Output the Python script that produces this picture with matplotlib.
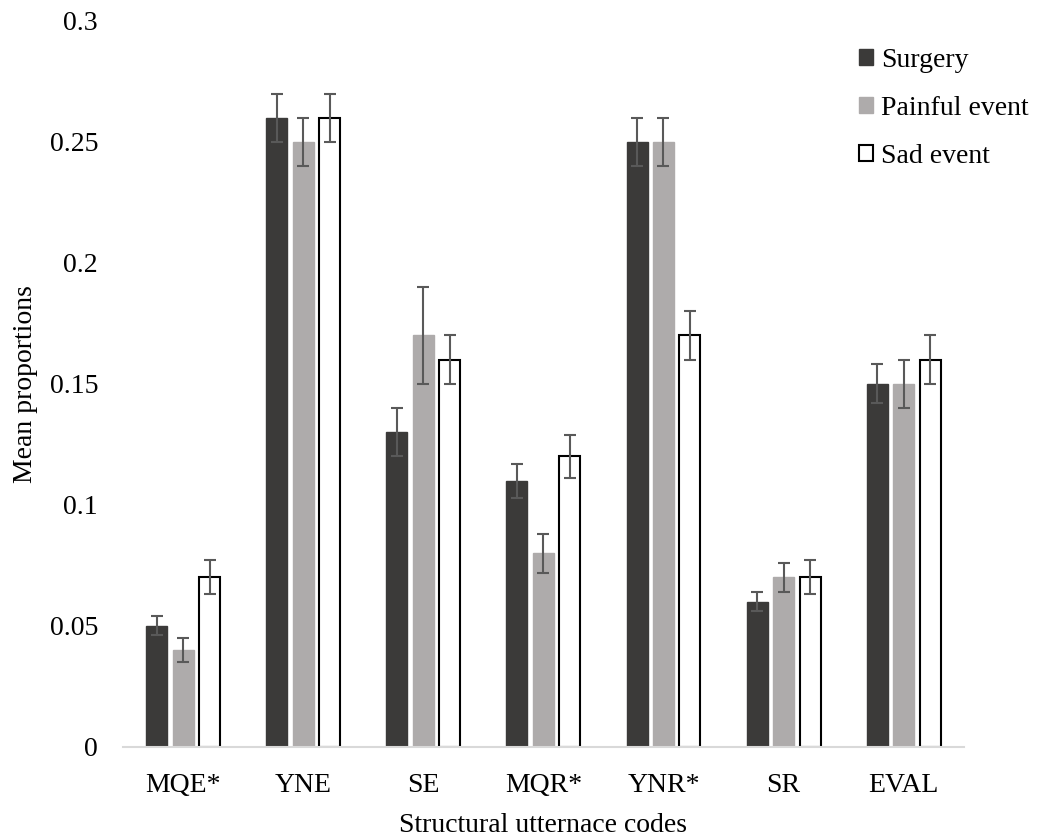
import numpy as np
import matplotlib
matplotlib.use('Agg')
import matplotlib.pyplot as plt

# Datos
codigos = ['MQE*', 'YNE', 'SE', 'MQR*', 'YNR*', 'SR', 'EVAL']
series = ['Surgery', 'Painful event', 'Sad event']
surgery = [0.05, 0.26, 0.13, 0.11, 0.25, 0.06, 0.15]
painful = [0.04, 0.25, 0.17, 0.08, 0.25, 0.07, 0.15]
sad = [0.07, 0.26, 0.16, 0.12, 0.17, 0.07, 0.16]
err_surgery = [0.004, 0.01, 0.01, 0.007, 0.01, 0.004, 0.008]
err_painful = [0.005, 0.01, 0.02, 0.008, 0.01, 0.006, 0.01]
err_sad = [0.007, 0.01, 0.01, 0.009, 0.01, 0.007, 0.01]

plt.rcParams['font.family'] = ['Liberation Serif', 'DejaVu Serif']

fig = plt.figure(figsize=(10.43, 8.39), dpi=100)
ax = fig.add_axes([0.118, 0.110, 0.806, 0.865])

x = np.arange(len(codigos))
width = 0.175
step = 0.22

estilos = [
    dict(color='#3b3a39', edgecolor='#3b3a39'),
    dict(color='#aeabab', edgecolor='#aeabab'),
    dict(color='white', edgecolor='black', linewidth=1.5),
]
valores = [surgery, painful, sad]
errores = [err_surgery, err_painful, err_sad]

for i, (nombre, vals, errs, st) in enumerate(zip(series, valores, errores, estilos)):
    ax.bar(x + (i - 1) * step, vals, width, label=nombre, zorder=2, **st)
    ax.errorbar(x + (i - 1) * step, vals, yerr=errs, fmt='none', ecolor='#595959',
                elinewidth=1.5, capsize=4, capthick=1.5, zorder=3)

ax.set_xlim(-0.5, len(codigos) - 0.5)
ax.set_ylim(0, 0.3)
ax.set_yticks([0, 0.05, 0.1, 0.15, 0.2, 0.25, 0.3])
ax.set_yticklabels(['0', '0.05', '0.1', '0.15', '0.2', '0.25', '0.3'], fontsize=20)
ax.set_xticks(x)
ax.set_xticklabels(codigos, fontsize=20)
ax.tick_params(axis='y', length=0, pad=18)
ax.tick_params(axis='x', length=0, pad=19)

for s in ['top', 'right', 'left']:
    ax.spines[s].set_visible(False)
ax.spines['bottom'].set_color('#d9d9d9')
ax.spines['bottom'].set_linewidth(1.5)

ax.set_xlabel('Structural utternace codes', fontsize=20, labelpad=11)
ax.set_ylabel('Mean proportions', fontsize=20, labelpad=8)

fig.legend(*ax.get_legend_handles_labels(), loc='upper left',
           bbox_to_anchor=(859 / 1043, 1 - 48 / 839), frameon=False, fontsize=20,
           borderpad=0, borderaxespad=0,
           handlelength=0.5, handleheight=0.5, handletextpad=0.3, labelspacing=0.82)

fig.savefig('out.png', dpi=100)
